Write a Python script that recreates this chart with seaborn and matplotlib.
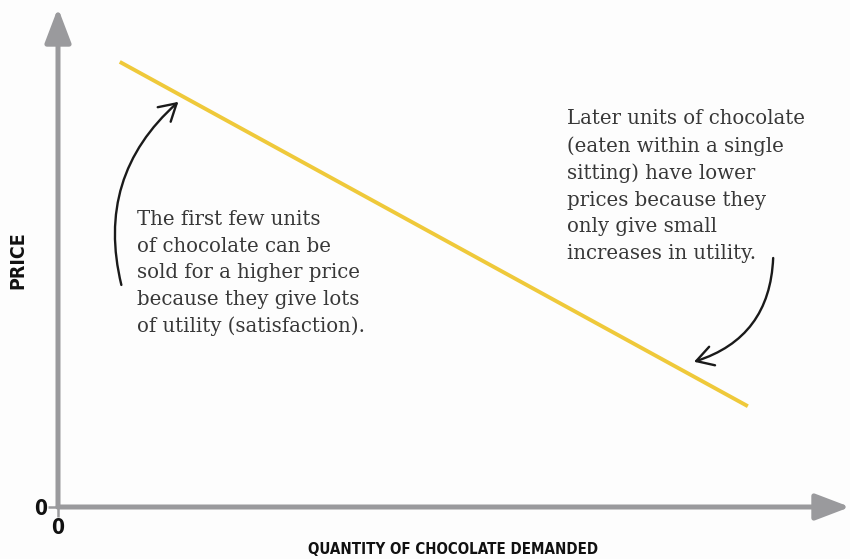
import matplotlib
matplotlib.use("Agg")
import matplotlib.pyplot as plt
import seaborn as sns
import pandas as pd

# Data
quantity = [0.78, 8.71]
price = [8.92, 2.02]
x_tick_labels = ["0"]
y_tick_labels = ["0"]
x_label = "QUANTITY OF CHOCOLATE DEMANDED"
y_label = "PRICE"
note_left = ("The first few units\nof chocolate can be\nsold for a higher price\n"
             "because they give lots\nof utility (satisfaction).")
note_right = ("Later units of chocolate\n(eaten within a single\nsitting) have lower\n"
              "prices because they\nonly give small\nincreases in utility.")

sns.set_style("white")
plt.rcParams['font.family'] = ['DejaVu Sans']

W, H = 850, 559
fig = plt.figure(figsize=(W / 100, H / 100), dpi=100, facecolor="#fdfdfd")
ax = fig.add_axes([58 / W, 52 / H, 792 / W, 499 / H])
ax.set_facecolor("none")

df = pd.DataFrame({"quantity": quantity, "price": price})
sns.lineplot(data=df, x="quantity", y="price", ax=ax, color="#efc93a", lw=2.8,
             solid_capstyle="butt")

ax.set_xlim(0, 10)
ax.set_ylim(0, 10)
for s in ax.spines.values():
    s.set_visible(False)

axis_grey = "#9a9a9d"
for end in [(1.0, 0.0), (0.0, 1.0)]:
    ax.annotate("", xy=end, xytext=(0, 0), xycoords="axes fraction",
                textcoords="axes fraction",
                arrowprops=dict(arrowstyle="-|>,head_length=1.05,head_width=0.4",
                                mutation_scale=20, lw=3.6, color=axis_grey,
                                shrinkA=0, shrinkB=0),
                annotation_clip=False, zorder=1)

ax.set_xticks([0])
ax.set_xticklabels(x_tick_labels)
ax.set_yticks([0])
ax.set_yticklabels(y_tick_labels)
ax.tick_params(axis="both", which="major", bottom=True, left=True, direction="out",
               length=7, width=1.8, color=axis_grey, labelsize=15, pad=1)
for t in ax.get_xticklabels() + ax.get_yticklabels():
    t.set_fontweight("bold")
    t.set_fontstretch("condensed")
    t.set_color("#111111")

ax.set_xlabel("")
ax.set_ylabel("")
fig.text(453 / W, 1 - 550 / H, x_label, ha="center", va="center", fontsize=10.8,
         fontweight="bold", fontstretch="condensed", color="#111111")
fig.text(18 / W, 1 - 260 / H, y_label, ha="center", va="center", rotation=90,
         fontsize=14, fontweight="bold", fontstretch="condensed", color="#111111")

text_kw = dict(family="DejaVu Serif", fontsize=14.2, color="#383838", va="top",
               ha="left", linespacing=1.5)
ax.text(1.0, 5.95, note_left, **text_kw)
ax.text(6.43, 7.97, note_right, **text_kw)

ann_kw = dict(arrowstyle="->,head_length=0.6,head_width=0.35", mutation_scale=20,
              lw=1.7, color="#1a1a1a", shrinkA=0, shrinkB=0)
ax.annotate("", xy=(1.52, 8.12), xytext=(0.80, 4.45),
            arrowprops=dict(connectionstyle="arc3,rad=-0.3", **ann_kw))
ax.annotate("", xy=(8.03, 2.91), xytext=(9.03, 4.99),
            arrowprops=dict(connectionstyle="arc3,rad=-0.35", **ann_kw))

fig.savefig("out.png", dpi=100, facecolor=fig.get_facecolor())
